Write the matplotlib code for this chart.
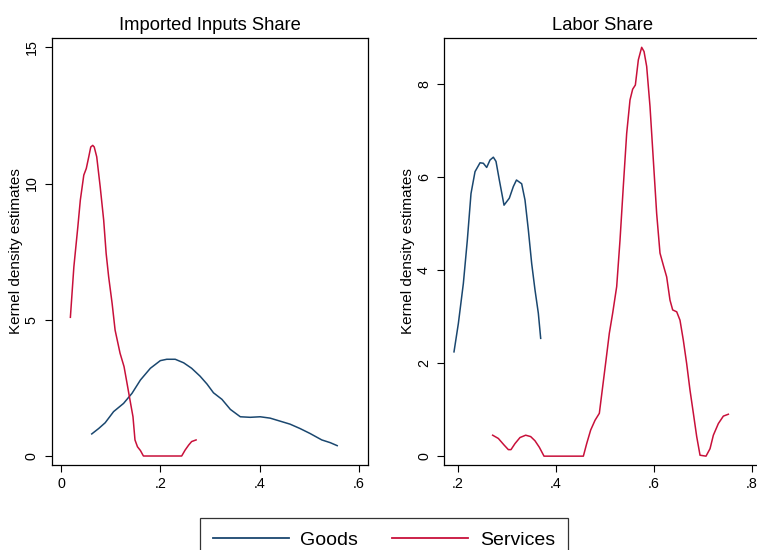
import matplotlib
matplotlib.use("Agg")
import matplotlib.pyplot as plt
from matplotlib.lines import Line2D
from matplotlib.ticker import FuncFormatter

plt.rcParams["font.family"] = ["Liberation Sans", "DejaVu Sans"]

GOODS_COLOR = "#1a476f"
SERV_COLOR = "#c8103a"

# Imported inputs share - kernel density curves
imp_goods_x = [0.062, 0.076, 0.089, 0.106, 0.126, 0.143, 0.160, 0.180, 0.200, 0.213,
               0.230, 0.247, 0.263, 0.280, 0.294, 0.307, 0.324, 0.341, 0.361, 0.381,
               0.401, 0.421, 0.441, 0.461, 0.481, 0.501, 0.525, 0.542, 0.556]
imp_goods_y = [0.81, 1.01, 1.22, 1.63, 1.93, 2.30, 2.79, 3.22, 3.50, 3.55,
               3.55, 3.42, 3.22, 2.93, 2.64, 2.32, 2.08, 1.71, 1.44, 1.42,
               1.44, 1.39, 1.28, 1.17, 1.01, 0.83, 0.59, 0.49, 0.38]

imp_serv_x = [0.019, 0.026, 0.034, 0.039, 0.046, 0.051, 0.056, 0.060, 0.064, 0.067,
              0.072, 0.079, 0.086, 0.091, 0.096, 0.103, 0.109, 0.119, 0.127, 0.133,
              0.139, 0.145, 0.149, 0.154, 0.160, 0.166, 0.243, 0.250, 0.257, 0.263,
              0.272]
imp_serv_y = [5.09, 6.94, 8.41, 9.39, 10.31, 10.55, 10.98, 11.34, 11.40, 11.34,
              10.98, 9.88, 8.66, 7.43, 6.58, 5.60, 4.62, 3.77, 3.28, 2.67,
              2.05, 1.44, 0.59, 0.34, 0.20, 0.0, 0.0, 0.22, 0.40, 0.53,
              0.59]

# Labor share - kernel density curves
lab_goods_x = [0.1925, 0.2014, 0.2116, 0.2197, 0.2272, 0.2354, 0.2456, 0.2524, 0.2592,
               0.2660, 0.2728, 0.2782, 0.2850, 0.2946, 0.3054, 0.3136, 0.3200, 0.3306,
               0.3374, 0.3442, 0.3510, 0.3578, 0.3646, 0.3694]
lab_goods_y = [2.24, 2.85, 3.71, 4.64, 5.64, 6.11, 6.30, 6.29, 6.20,
               6.36, 6.42, 6.33, 5.93, 5.39, 5.54, 5.79, 5.93, 5.85,
               5.50, 4.86, 4.14, 3.57, 3.07, 2.53]

lab_serv_x = [0.2714, 0.2830, 0.2946, 0.3034, 0.3088, 0.3170, 0.3272, 0.3388, 0.3490,
              0.3578, 0.3667, 0.3762, 0.4565, 0.4633, 0.4714, 0.4803, 0.4891, 0.4959,
              0.5027, 0.5095, 0.5163, 0.5245, 0.5313, 0.5380, 0.5449, 0.5517, 0.5571,
              0.5626, 0.5687, 0.5755, 0.5803, 0.5857, 0.5925, 0.5993, 0.6061, 0.6129,
              0.6197, 0.6265, 0.6333, 0.6388, 0.6470, 0.6537, 0.6605, 0.6673, 0.6741,
              0.6810, 0.6878, 0.6946, 0.7068, 0.7150, 0.7218, 0.7320, 0.7422, 0.7524]
lab_serv_y = [0.45, 0.38, 0.24, 0.14, 0.14, 0.27, 0.40, 0.45, 0.42,
              0.33, 0.19, 0.0, 0.0, 0.27, 0.56, 0.77, 0.92, 1.49,
              2.06, 2.64, 3.07, 3.64, 4.64, 5.79, 6.93, 7.65, 7.88,
              7.97, 8.51, 8.78, 8.69, 8.37, 7.51, 6.36, 5.21, 4.36,
              4.10, 3.85, 3.35, 3.14, 3.10, 2.92, 2.49, 1.99, 1.42,
              0.92, 0.42, 0.02, 0.0, 0.16, 0.45, 0.70, 0.86, 0.90]

imp_yticks = [0, 5, 10, 15]
imp_xticks = [0, 0.2, 0.4, 0.6]
lab_yticks = [0, 2, 4, 6, 8]
lab_xticks = [0.2, 0.4, 0.6, 0.8]


def stata_fmt(v, pos):
    s = "%g" % round(v, 4)
    if s.startswith("0."):
        s = s[1:]
    return s


def style_axis(ax, title, xticks, yticks):
    ax.set_title(title, fontsize=13.2, pad=6)
    ax.set_xticks(xticks)
    ax.set_yticks(yticks)
    ax.xaxis.set_major_formatter(FuncFormatter(stata_fmt))
    ax.yaxis.set_major_formatter(FuncFormatter(stata_fmt))
    ax.tick_params(axis="both", direction="out", length=5, width=0.8, labelsize=10.3)
    ax.tick_params(axis="x", pad=3.5)
    ax.tick_params(axis="y", pad=4.5)
    for lab in ax.get_yticklabels():
        lab.set_rotation(90)
        lab.set_va("center")
    for sp in ax.spines.values():
        sp.set_linewidth(0.9)
    ax.set_ylabel("Kernel density estimates", fontsize=11, va="center")
    ax.yaxis.set_label_coords(-0.114, 0.5)


fig = plt.figure(figsize=(7.57, 5.5), dpi=100)

ax1 = fig.add_axes([52 / 757, 85 / 550, 316 / 757, 427 / 550])
ax1.plot(imp_goods_x, imp_goods_y, color=GOODS_COLOR, lw=1.1)
ax1.plot(imp_serv_x, imp_serv_y, color=SERV_COLOR, lw=1.1)
ax1.set_xlim(-0.018, 0.618)
ax1.set_ylim(-0.33, 15.34)
style_axis(ax1, "Imported Inputs Share", imp_xticks, imp_yticks)

ax2 = fig.add_axes([444.3 / 757, 85 / 550, 316 / 757, 427 / 550])
ax2.plot(lab_goods_x, lab_goods_y, color=GOODS_COLOR, lw=1.1)
ax2.plot(lab_serv_x, lab_serv_y, color=SERV_COLOR, lw=1.1)
ax2.set_xlim(0.1727, 0.8176)
ax2.set_ylim(-0.19, 8.98)
style_axis(ax2, "Labor Share", lab_xticks, lab_yticks)

handles = [Line2D([], [], color=GOODS_COLOR, lw=1.3),
           Line2D([], [], color=SERV_COLOR, lw=1.3)]
leg = fig.legend(handles, ["Goods", "Services"], ncol=2, loc="upper center",
                 bbox_to_anchor=(384 / 757, 1 - 518 / 550), fontsize=14,
                 frameon=True, fancybox=False, edgecolor="black",
                 handlelength=3.9, handletextpad=0.6, columnspacing=1.75,
                 borderpad=0.68, borderaxespad=0)
leg.get_frame().set_linewidth(0.9)

fig.savefig("out.png", dpi=100)
